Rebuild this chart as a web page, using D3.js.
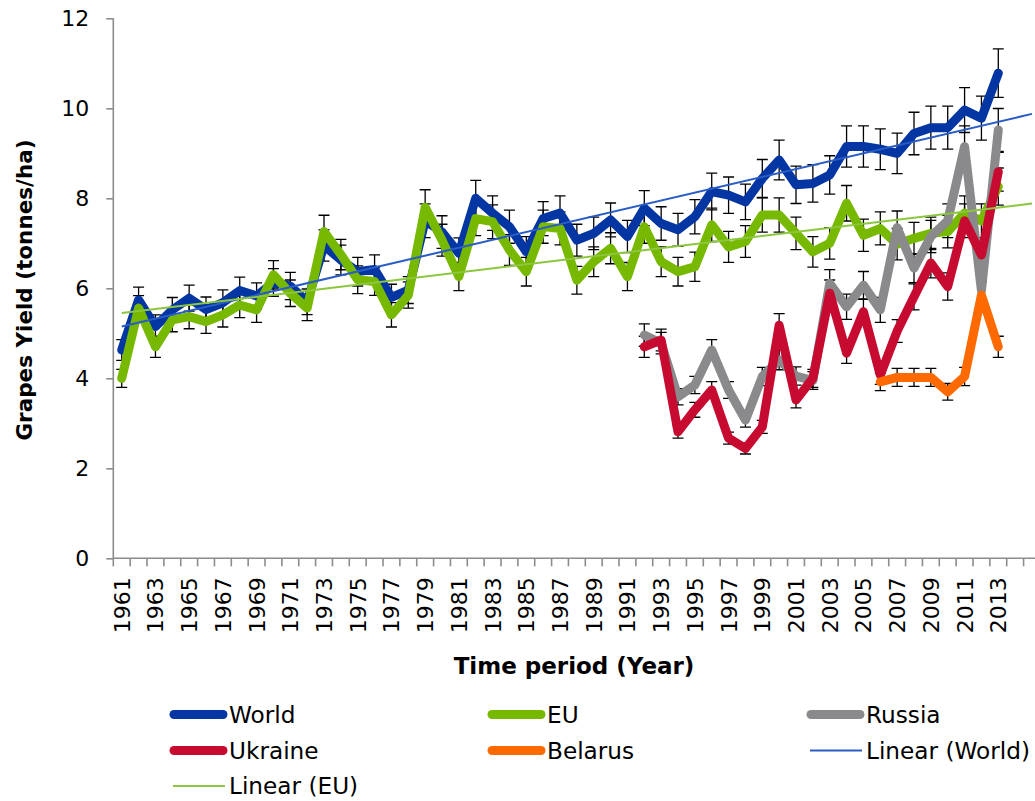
<!DOCTYPE html>
<html>
<head>
<meta charset="utf-8">
<script src="https://cdn.jsdelivr.net/npm/d3@7/dist/d3.min.js"></script>
<style>
  html, body { margin: 0; padding: 0; background: #ffffff; }
  svg { display: block; overflow: hidden; }
  text { font-family: "DejaVu Sans", Verdana, sans-serif; fill: #000; }
</style>
</head>
<body>
<svg id="chart" width="1035" height="801"></svg>
<script>
// Yearly categories of the time axis (two extra periods carry the trend forecast)
const categories = d3.range(1961, 2016);
const tickLabels = d3.range(1961, 2014, 2);
const yTicks = [0, 2, 4, 6, 8, 10, 12];

// Grape yields, tonnes per hectare
const worldStart = 1961;
const world = [4.63, 5.74, 5.15, 5.52, 5.78, 5.53, 5.68, 5.95, 5.83, 6.13,
  6.05, 5.70, 6.95, 6.63, 6.37, 6.42, 5.80, 5.96, 7.50, 7.25,
  6.78, 8.00, 7.67, 7.37, 6.81, 7.55, 7.67, 7.07, 7.22, 7.52,
  7.15, 7.78, 7.44, 7.30, 7.59, 8.15, 8.07, 7.92, 8.44, 8.85,
  8.30, 8.33, 8.52, 9.15, 9.15, 9.09, 9.00, 9.44, 9.57, 9.57,
  9.96, 9.78, 10.78];

const euStart = 1961;
const eu = [4.00, 5.56, 4.70, 5.30, 5.37, 5.26, 5.41, 5.63, 5.52, 6.30,
  5.89, 5.56, 7.26, 6.75, 6.19, 6.15, 5.41, 5.85, 7.80, 7.07,
  6.26, 7.55, 7.48, 6.85, 6.37, 7.37, 7.33, 6.18, 6.59, 6.89,
  6.26, 7.37, 6.59, 6.37, 6.48, 7.41, 6.92, 7.04, 7.63, 7.63,
  7.22, 6.81, 7.00, 7.89, 7.18, 7.33, 6.98, 7.11, 7.22, 7.26,
  7.67, 7.50, 8.26];

const russiaStart = 1992;
const russia = [4.96, 4.78, 3.59, 3.85, 4.63, 3.74, 3.07, 4.04, 4.41, 4.05,
  3.95, 6.11, 5.59, 6.07, 5.52, 7.35, 6.45, 7.15, 7.50, 9.15,
  5.95, 9.52];

const ukraineStart = 1992;
const ukraine = [4.70, 4.85, 2.81, 3.30, 3.74, 2.67, 2.44, 2.92, 5.18, 3.52,
  4.00, 5.89, 4.56, 5.48, 4.07, 5.05, 5.81, 6.56, 6.04, 7.50,
  6.74, 8.59];

const belarusStart = 2006;
const belarus = [3.92, 4.02, 4.02, 4.02, 3.70, 4.04, 5.85, 4.70];

const errorShare = 0.05;   // percentage error bars
const trendForward = 2;    // forecast periods for the linear trends

const series = [
  { name: "World",   start: worldStart,   values: world,   color: "#0335a3" },
  { name: "EU",      start: euStart,      values: eu,      color: "#77b900" },
  { name: "Russia",  start: russiaStart,  values: russia,  color: "#8a8a8c" },
  { name: "Ukraine", start: ukraineStart, values: ukraine, color: "#c60a30" },
  { name: "Belarus", start: belarusStart, values: belarus, color: "#ff6a00" }
];
const trends = [
  { name: "Linear (World)", source: series[0], color: "#2a5cc6" },
  { name: "Linear (EU)",    source: series[1], color: "#8cc63e" }
];

const svg = d3.select("#chart");
const left = 113.3, bandW = 16.857;
const x = d3.scaleBand()
  .domain(categories)
  .range([left, left + categories.length * bandW])
  .padding(0);
const cx = yr => x(yr) + x.bandwidth() / 2;
const y = d3.scaleLinear().domain([0, 12]).range([558.3, 18.3]);

const toPoints = s => s.values.map((v, i) => ({ year: s.start + i, value: v }));

// Axes
const axisColor = "#8c8c8c";
const yAxis = svg.append("g")
  .attr("transform", `translate(${left},0)`)
  .call(d3.axisLeft(y).tickValues(yTicks).tickSize(7).tickPadding(17).tickFormat(d3.format("d")));
yAxis.select(".domain").attr("stroke", axisColor).attr("stroke-width", 1.6)
  .attr("d", `M0,${y(12)}V${y(0)}`);
yAxis.selectAll(".tick line").attr("stroke", axisColor).attr("stroke-width", 1.6);
yAxis.selectAll(".tick text").style("font-size", "22px").style("font-family", "DejaVu Sans");

const xAxis = svg.append("g").attr("transform", `translate(0,${y(0)})`);
xAxis.append("line")
  .attr("x1", left).attr("x2", x.range()[1])
  .attr("stroke", axisColor).attr("stroke-width", 1.6);
xAxis.selectAll("line.tk")
  .data(categories.map(c => x(c)).concat([x.range()[1]]))
  .join("line").attr("class", "tk")
  .attr("x1", d => d).attr("x2", d => d)
  .attr("y1", 0).attr("y2", 8)
  .attr("stroke", axisColor).attr("stroke-width", 1.6);
xAxis.selectAll("text.lbl")
  .data(tickLabels)
  .join("text").attr("class", "lbl")
  .attr("transform", d => `translate(${cx(d)},19) rotate(-90)`)
  .attr("text-anchor", "end")
  .attr("dy", "0.36em")
  .style("font-size", "22px")
  .text(d => d);

// Axis titles
svg.append("text")
  .attr("transform", "translate(31.5,290) rotate(-90)")
  .attr("text-anchor", "middle")
  .style("font-size", "21.5px").style("font-weight", "bold")
  .text("Grapes Yield (tonnes/ha)");
svg.append("text")
  .attr("x", 574).attr("y", 674)
  .attr("text-anchor", "middle")
  .style("font-size", "23px").style("font-weight", "bold")
  .text("Time period (Year)");

// Error bars sit beneath the series lines
const capHalf = 5.5;
const errG = svg.append("g").attr("stroke", "#000").attr("stroke-width", 1.3).attr("fill", "none");
series.forEach(s => {
  toPoints(s).forEach(p => {
    const hi = y(p.value * (1 + errorShare)), lo = y(p.value * (1 - errorShare)), px = cx(p.year);
    errG.append("path")
      .attr("d", `M${px},${hi}V${lo}M${px - capHalf},${hi}H${px + capHalf}M${px - capHalf},${lo}H${px + capHalf}`);
  });
});

// Series lines
const line = d3.line().x(d => cx(d.year)).y(d => y(d.value));
series.forEach(s => {
  svg.append("path")
    .datum(toPoints(s))
    .attr("d", line)
    .attr("fill", "none")
    .attr("stroke", s.color)
    .attr("stroke-width", 9)
    .attr("stroke-linejoin", "round")
    .attr("stroke-linecap", "round");
});

// Least-squares trend lines, extended forward
trends.forEach(t => {
  const pts = toPoints(t.source);
  const n = pts.length;
  const mx = d3.mean(pts, d => d.year), my = d3.mean(pts, d => d.value);
  const slope = d3.sum(pts, d => (d.year - mx) * (d.value - my)) / d3.sum(pts, d => (d.year - mx) ** 2);
  const icpt = my - slope * mx;
  const y0 = pts[0].year, y1 = pts[n - 1].year + trendForward;
  svg.append("line")
    .attr("x1", cx(y0)).attr("y1", y(icpt + slope * y0))
    .attr("x2", cx(y1)).attr("y2", y(icpt + slope * y1))
    .attr("stroke", t.color).attr("stroke-width", 2);
});

// Legend
const legendItems = [
  { name: "World",          color: series[0].color, w: 9, col: 0, row: 0 },
  { name: "EU",             color: series[1].color, w: 9, col: 1, row: 0 },
  { name: "Russia",         color: series[2].color, w: 9, col: 2, row: 0 },
  { name: "Ukraine",        color: series[3].color, w: 9, col: 0, row: 1 },
  { name: "Belarus",        color: series[4].color, w: 9, col: 1, row: 1 },
  { name: "Linear (World)", color: trends[0].color, w: 2, col: 2, row: 1 },
  { name: "Linear (EU)",    color: trends[1].color, w: 2, col: 0, row: 2 }
];
const colX = [170, 488, 807];
const rowY = [714.5, 750.5, 786];
const lg = svg.append("g");
legendItems.forEach(it => {
  const x0 = colX[it.col], yy = rowY[it.row];
  const thick = it.w > 3;
  lg.append("line")
    .attr("x1", x0 + (thick ? 4 : 3)).attr("x2", x0 + (thick ? 53 : 55))
    .attr("y1", yy).attr("y2", yy)
    .attr("stroke", it.color).attr("stroke-width", it.w)
    .attr("stroke-linecap", thick ? "round" : "butt");
  lg.append("text")
    .attr("x", x0 + 59).attr("y", yy)
    .attr("dy", "0.36em")
    .style("font-size", "23.2px")
    .text(it.name);
});
</script>
</body>
</html>
